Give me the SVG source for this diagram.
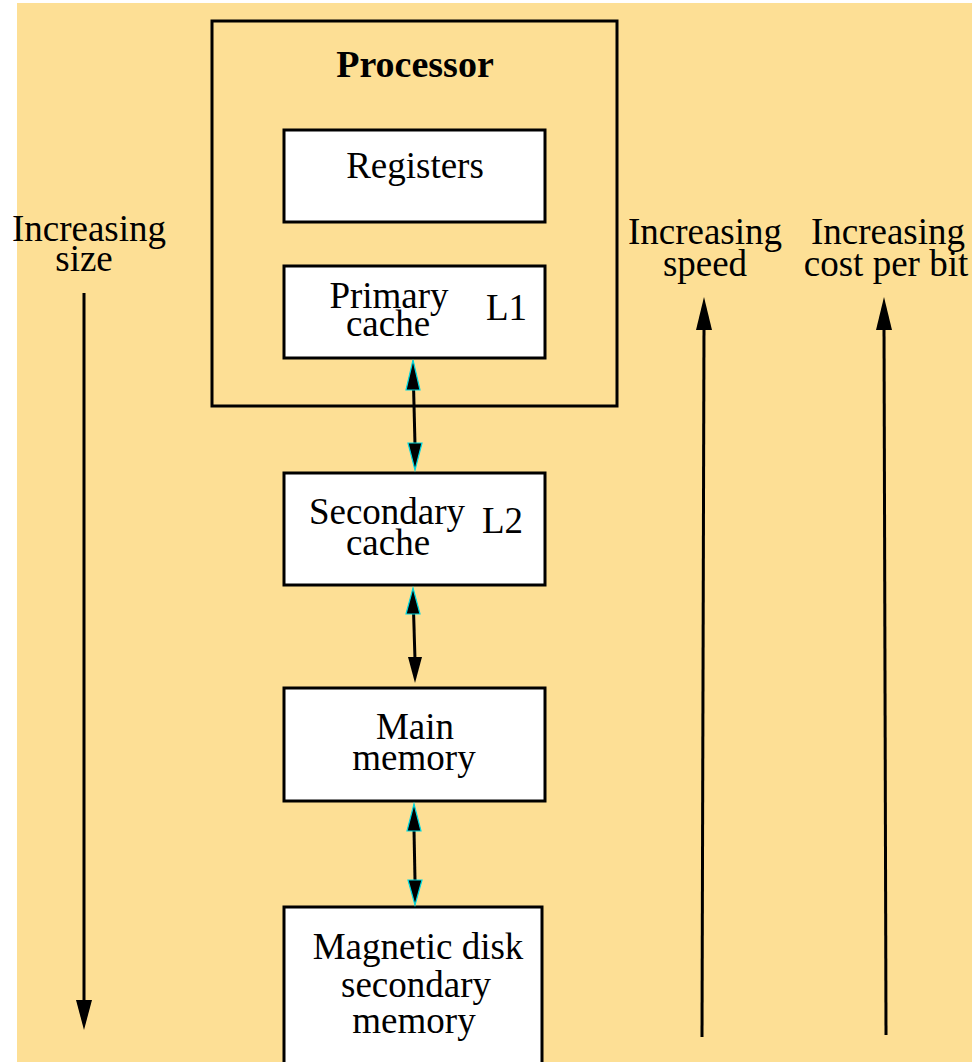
<svg xmlns="http://www.w3.org/2000/svg" width="972" height="1062" viewBox="0 0 972 1062">
<defs>
<style>
.box{fill:#fff;stroke:#000;stroke-width:3}
.t{font-family:"Liberation Serif","Times New Roman",serif;font-size:37px;fill:#000}
.c{text-anchor:middle}
.b{font-weight:bold;font-size:38px}
.ln{stroke:#000;stroke-width:3;fill:none}
.hc{fill:#000;stroke:#00d8e0;stroke-width:1.2}
.hk{fill:#000}
</style>
</defs>
<rect x="17" y="3" width="955" height="1059" fill="#FDDF95"/>
<g id="processor">
<rect x="212" y="21" width="405" height="385" fill="none" stroke="#000" stroke-width="3"/>
<text class="t b c" x="415" y="77">Processor</text>
</g>
<g id="registers">
<rect class="box" x="284" y="130" width="261" height="92"/>
<text class="t c" x="415" y="178">Registers</text>
</g>
<g id="primary-cache">
<rect class="box" x="284" y="266" width="261" height="92"/>
<text class="t c" x="389" y="308">Primary</text>
<text class="t c" x="388" y="336">cache</text>
<text class="t" x="486" y="320">L1</text>
</g>
<g id="secondary-cache">
<rect class="box" x="284" y="473" width="261" height="112"/>
<text class="t c" x="387" y="524">Secondary</text>
<text class="t c" x="388" y="555">cache</text>
<text class="t" x="482" y="533">L2</text>
</g>
<g id="main-memory">
<rect class="box" x="284" y="688" width="261" height="113"/>
<text class="t c" x="415" y="739">Main</text>
<text class="t c" x="414" y="770">memory</text>
</g>
<g id="magnetic-disk">
<rect class="box" x="284" y="907" width="258" height="170"/>
<text class="t c" x="418" y="959">Magnetic disk</text>
<text class="t c" x="416" y="997">secondary</text>
<text class="t c" x="414" y="1033">memory</text>
</g>
<g id="labels">
<text class="t c" x="89" y="241">Increasing</text>
<text class="t c" x="84" y="271">size</text>
<text class="t c" x="705" y="244">Increasing</text>
<text class="t c" x="705" y="276">speed</text>
<text class="t c" x="888" y="244">Increasing</text>
<text class="t c" x="886" y="276">cost per bit</text>
</g>
<g id="connectors">
<line class="ln" x1="413.5" y1="385" x2="415" y2="445"/>
<polygon class="hc" points="413,360 420,390 406,390"/>
<polygon class="hc" points="415,470 408,443 422,443"/>
<line class="ln" x1="413.5" y1="610" x2="415" y2="660"/>
<polygon class="hc" points="413,588 420,614 406,614"/>
<polygon class="hk" points="415,683 408,657 422,657"/>
<line class="ln" x1="414" y1="830" x2="415" y2="880"/>
<polygon class="hc" points="414,804 421,831 407,831"/>
<polygon class="hc" points="415,905 408,880 422,880"/>
<line class="ln" x1="84" y1="293" x2="84" y2="1005"/>
<polygon class="hk" points="84,1030 76,1000 92,1000"/>
<line class="ln" x1="702" y1="1037" x2="704" y2="325"/>
<polygon class="hk" points="704,297 712,330 696,330"/>
<line class="ln" x1="886" y1="1035" x2="884" y2="325"/>
<polygon class="hk" points="884,297 892,330 876,330"/>
</g>
</svg>
